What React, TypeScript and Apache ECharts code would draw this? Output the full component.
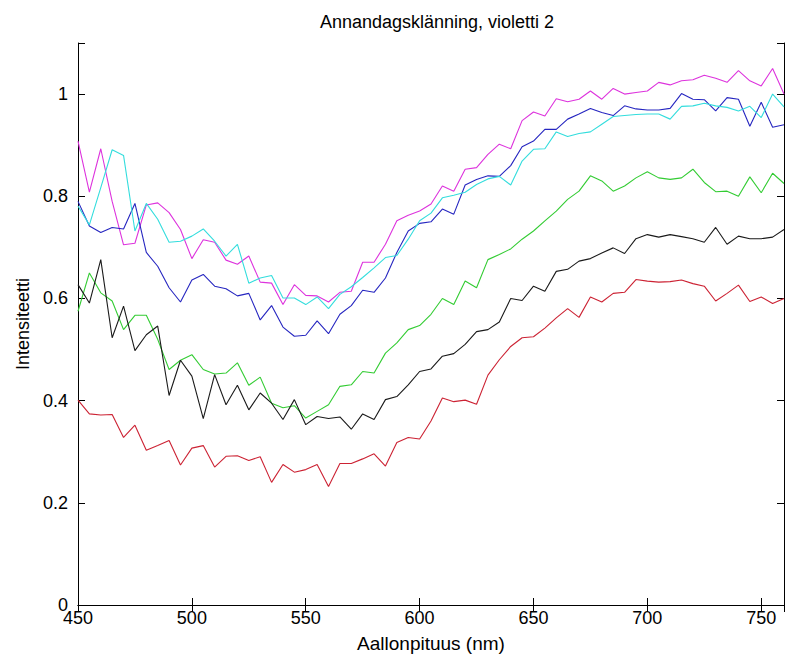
import React, { useEffect, useRef } from "react";
import * as echarts from "echarts";

const wavelengths: number[] = [];
for (let w = 450; w <= 760; w += 5) wavelengths.push(w);

const magenta = [0.908, 0.808, 0.893, 0.79, 0.705, 0.708, 0.783, 0.787, 0.768, 0.735, 0.678, 0.715, 0.71, 0.675, 0.667, 0.683, 0.632, 0.63, 0.588, 0.627, 0.606, 0.605, 0.593, 0.612, 0.614, 0.671, 0.671, 0.706, 0.752, 0.763, 0.771, 0.785, 0.82, 0.81, 0.853, 0.856, 0.882, 0.902, 0.893, 0.948, 0.965, 0.957, 0.991, 0.985, 0.99, 1.006, 0.99, 1.011, 1.0, 1.003, 1.006, 1.023, 1.018, 1.026, 1.028, 1.037, 1.031, 1.023, 1.046, 1.026, 1.016, 1.05, 1.0];
const cyan = [0.781, 0.744, 0.817, 0.891, 0.88, 0.732, 0.786, 0.755, 0.71, 0.712, 0.722, 0.736, 0.712, 0.683, 0.706, 0.63, 0.64, 0.645, 0.601, 0.601, 0.588, 0.603, 0.58, 0.608, 0.623, 0.641, 0.66, 0.68, 0.684, 0.716, 0.752, 0.767, 0.797, 0.802, 0.808, 0.823, 0.834, 0.839, 0.822, 0.869, 0.892, 0.893, 0.926, 0.917, 0.923, 0.926, 0.941, 0.956, 0.958, 0.96, 0.961, 0.961, 0.951, 0.976, 0.977, 0.982, 0.977, 0.974, 0.967, 0.976, 0.954, 1.0, 0.975];
const blue = [0.79, 0.742, 0.729, 0.739, 0.736, 0.786, 0.69, 0.663, 0.621, 0.593, 0.636, 0.647, 0.624, 0.619, 0.605, 0.61, 0.558, 0.586, 0.544, 0.526, 0.528, 0.556, 0.531, 0.569, 0.586, 0.616, 0.612, 0.64, 0.69, 0.732, 0.747, 0.75, 0.775, 0.765, 0.822, 0.833, 0.84, 0.839, 0.86, 0.897, 0.908, 0.931, 0.931, 0.951, 0.961, 0.972, 0.964, 0.958, 0.977, 0.971, 0.969, 0.969, 0.972, 1.001, 0.99, 0.989, 0.967, 0.993, 0.99, 0.937, 0.984, 0.935, 0.94];
const green = [0.575, 0.65, 0.611, 0.595, 0.539, 0.567, 0.567, 0.52, 0.461, 0.479, 0.49, 0.461, 0.452, 0.454, 0.474, 0.43, 0.446, 0.395, 0.386, 0.39, 0.366, 0.379, 0.392, 0.428, 0.431, 0.457, 0.454, 0.493, 0.513, 0.539, 0.547, 0.569, 0.6, 0.588, 0.634, 0.621, 0.676, 0.686, 0.697, 0.716, 0.732, 0.752, 0.771, 0.794, 0.81, 0.84, 0.83, 0.81, 0.82, 0.836, 0.848, 0.836, 0.833, 0.836, 0.853, 0.827, 0.809, 0.81, 0.8, 0.838, 0.807, 0.845, 0.825];
const black = [0.627, 0.591, 0.676, 0.523, 0.585, 0.498, 0.529, 0.546, 0.41, 0.479, 0.448, 0.365, 0.451, 0.392, 0.43, 0.382, 0.415, 0.395, 0.363, 0.402, 0.353, 0.369, 0.365, 0.368, 0.344, 0.374, 0.363, 0.402, 0.408, 0.431, 0.457, 0.462, 0.487, 0.492, 0.51, 0.535, 0.539, 0.554, 0.6, 0.596, 0.624, 0.614, 0.653, 0.657, 0.673, 0.678, 0.689, 0.699, 0.688, 0.717, 0.725, 0.72, 0.725, 0.721, 0.717, 0.71, 0.739, 0.706, 0.722, 0.717, 0.717, 0.72, 0.735];
const red = [0.401, 0.374, 0.372, 0.373, 0.328, 0.352, 0.303, 0.312, 0.322, 0.274, 0.307, 0.312, 0.27, 0.291, 0.292, 0.283, 0.29, 0.24, 0.275, 0.26, 0.265, 0.275, 0.232, 0.277, 0.277, 0.286, 0.296, 0.272, 0.318, 0.328, 0.325, 0.36, 0.405, 0.398, 0.401, 0.393, 0.45, 0.48, 0.506, 0.523, 0.525, 0.542, 0.562, 0.58, 0.563, 0.603, 0.593, 0.61, 0.612, 0.637, 0.634, 0.632, 0.633, 0.636, 0.629, 0.624, 0.595, 0.61, 0.626, 0.594, 0.603, 0.59, 0.6];

const seriesDefs = [
  { name: "magenta", data: magenta, color: "#dd33dd" },
  { name: "blue", data: blue, color: "#2626c0" },
  { name: "cyan", data: cyan, color: "#33dddd" },
  { name: "green", data: green, color: "#33cc33" },
  { name: "black", data: black, color: "#1a1a1a" },
  { name: "red", data: red, color: "#cc2233" },
];

const FONT = "'Liberation Sans', Arial, sans-serif";

export default function App() {
  const ref = useRef<HTMLDivElement>(null);
  useEffect(() => {
    if (!ref.current) return;
    const chart = echarts.init(ref.current, null, { renderer: "svg" });
    const axisCommon = {
      axisLine: { show: true, lineStyle: { color: "#000", width: 1 } },
      axisTick: { show: true, inside: true, length: 7, lineStyle: { color: "#000" } },
      splitLine: { show: false },
    };
    chart.setOption({
      animation: false,
      backgroundColor: "#fff",
      title: {
        text: "Annandagsklänning, violetti 2",
        left: 432,
        textAlign: "center",
        top: 8,
        textStyle: { fontFamily: FONT, fontSize: 18, fontWeight: "normal", color: "#000" },
      },
      grid: { left: 78, right: 1, top: 43, bottom: 61 },
      xAxis: [
        {
          type: "value",
          min: 450,
          max: 760,
          interval: 50,
          position: "bottom",
          name: "Aallonpituus (nm)",
          nameLocation: "middle",
          nameGap: 29,
          nameTextStyle: { fontFamily: FONT, fontSize: 19, color: "#000" },
          axisLabel: {
            fontFamily: FONT,
            fontSize: 18,
            color: "#000",
            margin: 4,
            formatter: (v: number) => (v % 50 === 0 ? String(v) : ""),
          },
          ...axisCommon,
        },
        {
          type: "value",
          min: 450,
          max: 760,
          interval: 50,
          position: "top",
          axisLabel: { show: false },
          ...axisCommon,
        },
      ],
      yAxis: [
        {
          type: "value",
          min: 0,
          max: 1.1,
          interval: 0.2,
          position: "left",
          name: "Intensiteetti",
          nameLocation: "middle",
          nameGap: 40,
          nameTextStyle: { fontFamily: FONT, fontSize: 18, color: "#000" },
          axisLabel: {
            fontFamily: FONT,
            fontSize: 18,
            color: "#000",
            margin: 10,
            formatter: (v: number) => (Math.abs(v - 1.1) < 1e-6 ? "" : String(Math.round(v * 10) / 10)),
          },
          ...axisCommon,
        },
        {
          type: "value",
          min: 0,
          max: 1.1,
          interval: 0.2,
          position: "right",
          axisLabel: { show: false },
          ...axisCommon,
        },
      ],
      series: seriesDefs.map((s) => ({
        type: "line",
        name: s.name,
        xAxisIndex: 0,
        yAxisIndex: 0,
        showSymbol: false,
        symbol: "none",
        lineStyle: { color: s.color, width: 1.1 },
        itemStyle: { color: s.color },
        data: wavelengths.map((w, i) => [w, s.data[i]]),
      })),
    });
    return () => chart.dispose();
  }, []);
  return (
    <div
      ref={ref}
      style={{ position: "fixed", left: 0, top: 0, width: 787, height: 666, background: "#fff" }}
    />
  );
}
